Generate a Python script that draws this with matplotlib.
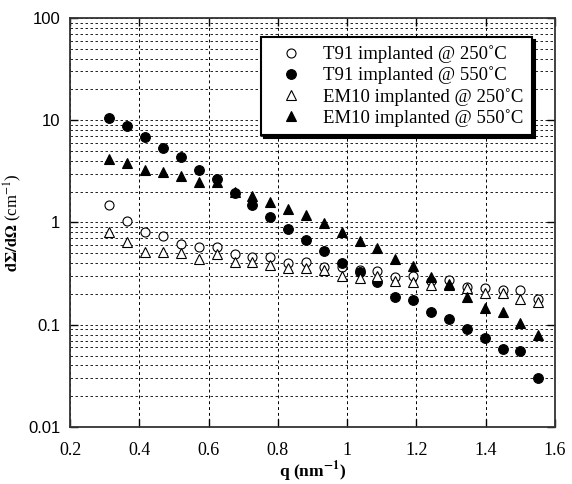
import numpy as np
import matplotlib
matplotlib.use('Agg')
import matplotlib.pyplot as plt
import matplotlib.ticker as tck

# q values (nm^-1), evenly spaced points
q = [0.313, 0.365, 0.416, 0.468, 0.520, 0.571, 0.623, 0.675, 0.726, 0.778,
     0.829, 0.881, 0.933, 0.984, 1.036, 1.087, 1.139, 1.191, 1.242, 1.294,
     1.345, 1.397, 1.449, 1.500, 1.552]

t91_250 = [1.48, 1.04, 0.80, 0.74, 0.62, 0.57, 0.58, 0.49, 0.46, 0.457,
           0.405, 0.41, 0.37, 0.37, 0.34, 0.338, 0.29, 0.30, 0.27, 0.274,
           0.232, 0.227, 0.219, 0.219, 0.177]
t91_550 = [10.6, 8.8, 6.8, 5.4, 4.34, 3.29, 2.64, 1.94, 1.49, 1.13,
           0.863, 0.675, 0.53, 0.40, 0.33, 0.26, 0.188, 0.176, 0.132, 0.114,
           0.090, 0.074, 0.0575, 0.0557, 0.0303]
em10_250 = [0.81, 0.64, 0.52, 0.52, 0.50, 0.44, 0.49, 0.41, 0.41, 0.38,
            0.36, 0.356, 0.343, 0.30, 0.284, 0.30, 0.27, 0.264, 0.245, 0.245,
            0.227, 0.203, 0.203, 0.179, 0.168]
em10_550 = [4.15, 3.85, 3.24, 3.10, 2.87, 2.51, 2.47, 1.97, 1.83, 1.59,
            1.35, 1.18, 0.995, 0.80, 0.66, 0.567, 0.437, 0.376, 0.291, 0.249,
            0.187, 0.145, 0.134, 0.103, 0.079]

labels = ['T91 implanted @ 250˚C', 'T91 implanted @ 550˚C',
          'EM10 implanted @ 250˚C', 'EM10 implanted @ 550˚C']

plt.rcParams['mathtext.fontset'] = 'stix'

fig = plt.figure(figsize=(5.72, 4.84), dpi=100)
ax = fig.add_axes([0.1224, 0.1178, 0.8479, 0.845])

ax.plot(q, t91_250, 'o', ms=6.5, mfc='white', mec='black', mew=0.8, label=labels[0])
ax.plot(q, t91_550, 'o', ms=7, mfc='black', mec='black', mew=0.8, label=labels[1])
ax.plot(q, em10_250, '^', ms=7.5, mfc='white', mec='black', mew=0.8, label=labels[2])
ax.plot(q, em10_550, '^', ms=7.5, mfc='black', mec='black', mew=0.8, label=labels[3])

ax.set_yscale('log')
ax.set_xlim(0.2, 1.6)
ax.set_ylim(0.01, 100)
ax.xaxis.set_major_locator(tck.MultipleLocator(0.2))
ax.xaxis.set_major_formatter(tck.FuncFormatter(lambda v, p: '%g' % round(v, 1)))
ax.yaxis.set_major_formatter(tck.FuncFormatter(lambda v, p: '%g' % v))
ax.yaxis.set_minor_locator(tck.LogLocator(base=10, subs=np.arange(2, 10)))
ax.yaxis.set_minor_formatter(tck.NullFormatter())

ax.grid(True, which='major', axis='x', color='black', ls=(0, (3, 3)), lw=0.7)
ax.grid(True, which='both', axis='y', color='black', ls=(0, (3, 3)), lw=0.6)

ax.tick_params(which='major', direction='in', length=6, width=1, top=True, right=True)
ax.tick_params(which='minor', direction='in', length=0)
ax.tick_params(axis='x', labelfontfamily='Liberation Serif', labelsize=13, pad=11)
ax.tick_params(axis='y', labelfontfamily='Liberation Sans', labelsize=12, pad=7)
for s in ax.spines.values():
    s.set_linewidth(1.3)
    s.set_color('#333333')

ax.set_xlabel(r'q (nm$^{\mathbf{-1}}$)', family='Liberation Serif', fontweight='bold', fontsize=12.5, labelpad=0)
ax.set_ylabel(r'$\mathbf{d\Sigma/d\Omega}$ (cm$^{-1}$)', family='Liberation Serif', fontsize=12, labelpad=3)

leg = ax.legend(loc='upper right', bbox_to_anchor=(0.972, 0.977), fancybox=False,
                shadow={'color': 'black', 'alpha': 1}, framealpha=1, edgecolor='black',
                prop={'family': 'Liberation Serif', 'size': 13.5},
                labelspacing=0.18, handletextpad=0.55, borderpad=0.45, handlelength=2.3)
leg.get_frame().set_linewidth(1.5)

fig.savefig('out.png', dpi=100)
